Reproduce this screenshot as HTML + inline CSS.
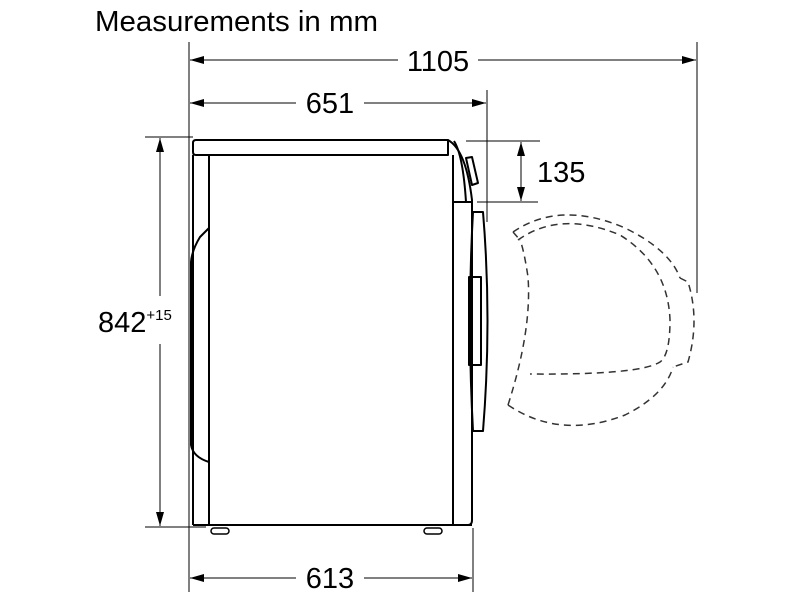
<!DOCTYPE html>
<html><head><style>html,body{margin:0;padding:0;background:#fff}svg{display:block}text{font-family:"Liberation Sans",Arial,sans-serif;fill:#000}</style></head>
<body>
<svg width="800" height="600" viewBox="0 0 800 600" xmlns="http://www.w3.org/2000/svg">
<defs>
<marker id="a" viewBox="0 0 14 8" refX="14" refY="4" markerWidth="14" markerHeight="8" markerUnits="userSpaceOnUse" orient="auto-start-reverse"><path d="M0,0L14,4L0,8z" fill="#000"/></marker>
</defs>
<text x="95" y="31" font-size="29" textLength="283" lengthAdjust="spacingAndGlyphs">Measurements in mm</text>
<g stroke="#000" stroke-width="1" fill="none">
<line x1="189" y1="42" x2="189" y2="592"/>
<line x1="697" y1="42" x2="697" y2="293"/>
<line x1="487" y1="90" x2="487" y2="222"/>
<line x1="473" y1="528" x2="473" y2="592"/>
<line x1="145" y1="137" x2="193" y2="137"/>
<line x1="145" y1="527" x2="206" y2="527"/>
<line x1="466" y1="141" x2="540" y2="141"/>
<line x1="477" y1="202" x2="538" y2="202"/>
<line x1="190" y1="60" x2="398" y2="60" marker-start="url(#a)"/>
<line x1="478" y1="60" x2="696" y2="60" marker-end="url(#a)"/>
<line x1="190" y1="103" x2="296" y2="103" marker-start="url(#a)"/>
<line x1="364" y1="103" x2="486" y2="103" marker-end="url(#a)"/>
<line x1="190" y1="578" x2="296" y2="578" marker-start="url(#a)"/>
<line x1="364" y1="578" x2="472" y2="578" marker-end="url(#a)"/>
<line x1="160" y1="138" x2="160" y2="296" marker-start="url(#a)"/>
<line x1="160" y1="344" x2="160" y2="526" marker-end="url(#a)"/>
<line x1="521" y1="142" x2="521" y2="201" marker-start="url(#a)" marker-end="url(#a)"/>
</g>
<text x="438" y="71" font-size="29" text-anchor="middle">1105</text>
<text x="330" y="113" font-size="29" text-anchor="middle">651</text>
<text x="330" y="588" font-size="29" text-anchor="middle">613</text>
<text x="537" y="182" font-size="29">135</text>
<text x="98" y="332" font-size="29">842<tspan font-size="15" dy="-12">+15</tspan></text>
<g stroke="#000" stroke-width="2" fill="none" stroke-linejoin="round">
<path d="M196,140 L448,140 L448,155 L196,155 Q193,155 193,152 L193,143 Q193,140 196,140z"/>
<line x1="209" y1="155" x2="209" y2="525"/>
<line x1="193" y1="155" x2="193" y2="525"/>
<line x1="193" y1="525" x2="472" y2="525"/>
<line x1="453" y1="155" x2="453" y2="525"/>
<path d="M448,140 Q466,150 472,200 L472,520 Q472,525 468,525"/>
<path d="M454,141 Q463,155 466,202"/>
<line x1="453" y1="202" x2="472" y2="202"/>
<path d="M466,158 L472,157 L478,183 L472,185z"/>
<path d="M209,228 L200,237 Q192,250 191,262 L191,445 Q193,457 209,462"/>
<path d="M473,212 L483,212 Q492,320 483,431 L473,431 Q467,320 473,212z"/>
<rect x="469" y="277" width="12" height="88"/>
<path d="M214,528 h12 a3,3 0 0 1 0,6 h-12 a3,3 0 0 1 0,-6z" stroke-width="1.5"/>
<path d="M427,528 h12 a3,3 0 0 1 0,6 h-12 a3,3 0 0 1 0,-6z" stroke-width="1.5"/>
</g>
<g stroke="#333" stroke-width="1.5" fill="none" stroke-dasharray="7,5">
<path d="M508,405 Q532,330 528,277 Q524,250 520,240"/>
<path d="M513,232 L520,240"/>
<path d="M513,232 Q560,200 625,228 Q670,250 680,278"/>
<path d="M508,405 Q560,440 625,415 Q665,395 673,367"/>
<path d="M518,240 Q560,210 620,235 Q668,265 670,320 Q670,355 660,362 Q640,375 530,374"/>
<path d="M680,278 L688,282 Q700,320 688,362 L673,367"/>
</g>
</svg>
</body></html>
